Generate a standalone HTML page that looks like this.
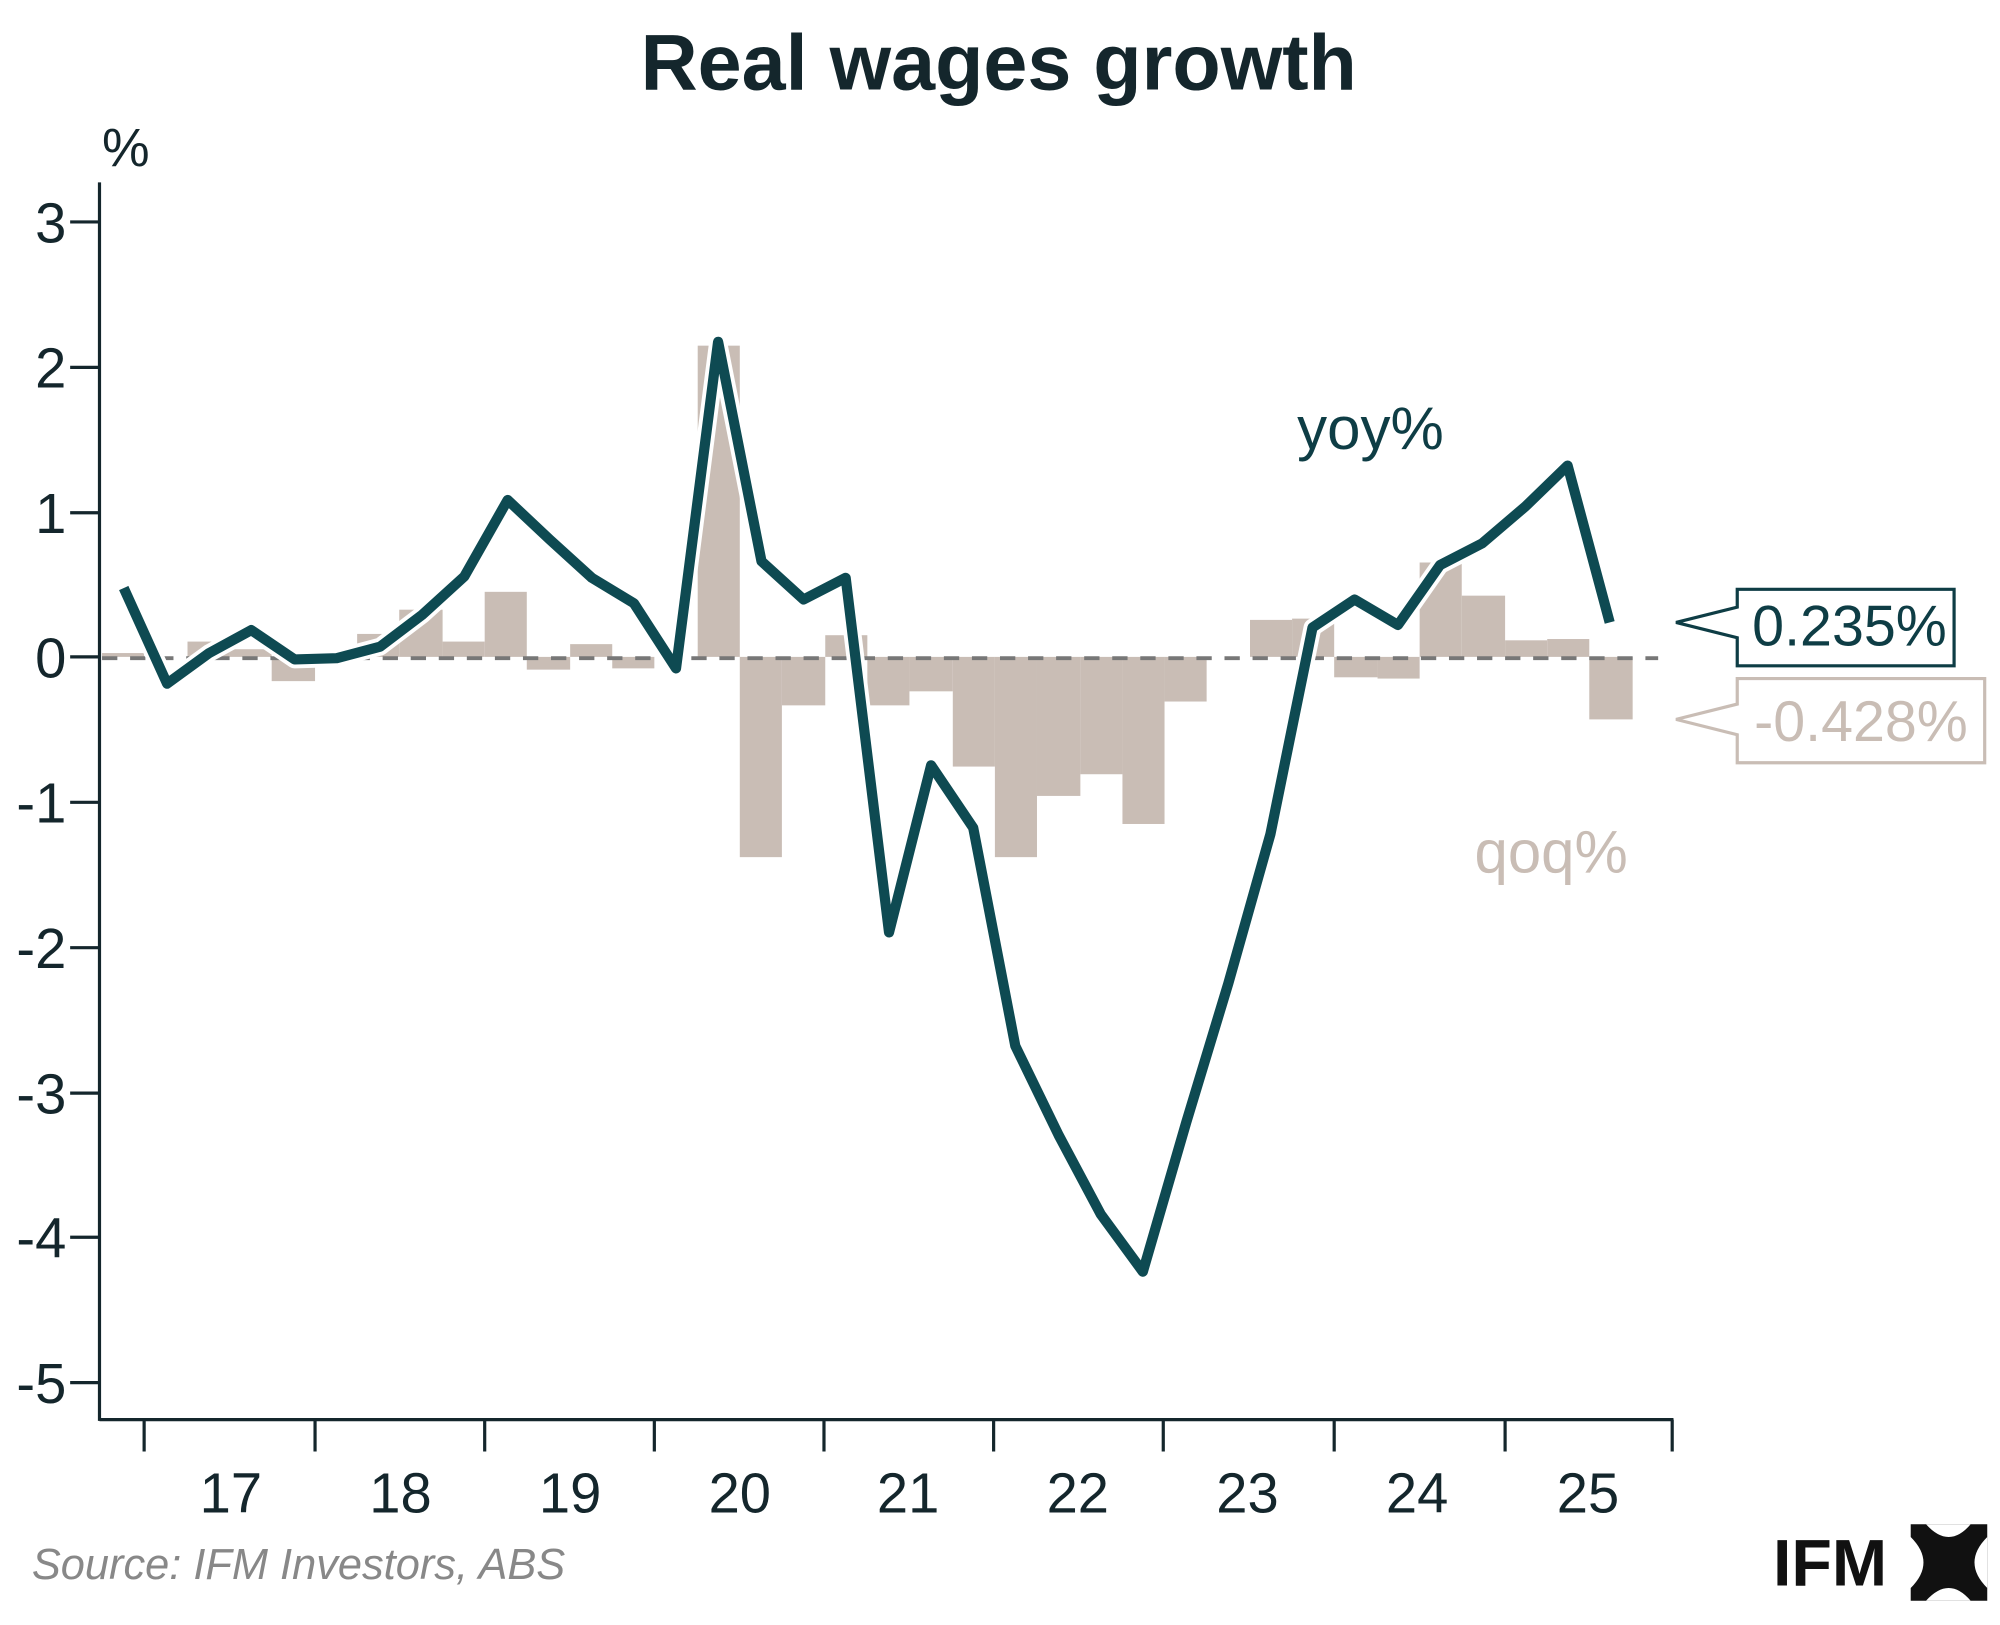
<!DOCTYPE html>
<html><head><meta charset="utf-8"><style>html,body{margin:0;padding:0;background:#fff}svg{display:block}</style></head>
<body>
<svg width="2000" height="1625" viewBox="0 0 1568 1274" xmlns="http://www.w3.org/2000/svg" font-family="Liberation Sans, sans-serif">
<rect width="1568" height="1274" fill="#fff"/>
<text x="783" y="70" font-size="62" font-weight="bold" text-anchor="middle" fill="#14262c">Real wages growth</text>
<text x="80" y="130" font-size="42" fill="#14262c">%</text>
<g fill="#c9bdb5">
<rect x="80" y="512" width="33" height="3"/>
<rect x="147" y="503" width="33" height="12"/>
<rect x="180" y="509" width="33" height="6"/>
<rect x="213" y="515" width="34" height="19"/>
<rect x="280" y="497" width="33" height="18"/>
<rect x="313" y="478" width="34" height="37"/>
<rect x="347" y="503" width="33" height="12"/>
<rect x="380" y="464" width="33" height="51"/>
<rect x="413" y="515" width="34" height="10"/>
<rect x="447" y="505" width="33" height="10"/>
<rect x="480" y="515" width="33" height="9"/>
<rect x="547" y="271" width="33" height="244"/>
<rect x="580" y="515" width="33" height="157"/>
<rect x="613" y="515" width="34" height="38"/>
<rect x="647" y="498" width="33" height="17"/>
<rect x="680" y="515" width="33" height="38"/>
<rect x="713" y="515" width="34" height="27"/>
<rect x="747" y="515" width="33" height="86"/>
<rect x="780" y="515" width="33" height="157"/>
<rect x="813" y="515" width="34" height="109"/>
<rect x="847" y="515" width="33" height="92"/>
<rect x="880" y="515" width="33" height="131"/>
<rect x="913" y="515" width="33" height="35"/>
<rect x="980" y="486" width="33" height="29"/>
<rect x="1013" y="485" width="33" height="30"/>
<rect x="1046" y="515" width="34" height="16"/>
<rect x="1080" y="515" width="33" height="17"/>
<rect x="1113" y="441" width="33" height="74"/>
<rect x="1146" y="467" width="34" height="48"/>
<rect x="1180" y="502" width="33" height="13"/>
<rect x="1213" y="501" width="33" height="14"/>
<rect x="1246" y="515" width="34" height="49"/>
</g>
<line x1="80" y1="516" x2="1300" y2="516" stroke="#777" stroke-width="3" stroke-dasharray="12,10"/>
<polyline fill="none" stroke="#fff" stroke-width="14" stroke-linejoin="round" points="97,461 131,536 164,512 197,494 231,517 264,516 298,507 331,482 364,452 398,392 431,423 464,453 497,473 530,524 563,268 597,440 630,470 663,453 697,731 730,600 763,649 796,820 830,890 863,952 896,997 930,880 963,771 996,654 1029,492 1062,470 1096,490 1129,443 1162,426 1196,397 1229,365 1262,488"/>
<polyline fill="none" stroke="#0e4a52" stroke-width="8" stroke-linejoin="round" points="97,461 131,536 164,512 197,494 231,517 264,516 298,507 331,482 364,452 398,392 431,423 464,453 497,473 530,524 563,268 597,440 630,470 663,453 697,731 730,600 763,649 796,820 830,890 863,952 896,997 930,880 963,771 996,654 1029,492 1062,470 1096,490 1129,443 1162,426 1196,397 1229,365 1262,488"/>
<g stroke="#14262c" stroke-width="2.5" fill="none">
<line x1="78" y1="143" x2="78" y2="1114"/>
<line x1="78" y1="1113" x2="1312" y2="1113"/>
<path d="M55 174H78M55 288H78M55 402H78M55 515H78M55 629H78M55 743H78M55 857H78M55 970H78M55 1084H78"/>
<path d="M113 1113V1138M247 1113V1138M380 1113V1138M513 1113V1138M646 1113V1138M779 1113V1138M912 1113V1138M1046 1113V1138M1180 1113V1138M1311 1113V1138"/>
</g>
<g font-size="44" fill="#14262c" text-anchor="end">
<text x="52" y="190">3</text><text x="52" y="304">2</text><text x="52" y="418">1</text><text x="52" y="531">0</text>
<text x="52" y="645">-1</text><text x="52" y="759">-2</text><text x="52" y="873">-3</text><text x="52" y="986">-4</text><text x="52" y="1100">-5</text>
</g>
<g font-size="44" fill="#14262c" text-anchor="middle">
<text x="181" y="1186">17</text><text x="314" y="1186">18</text><text x="447" y="1186">19</text><text x="580" y="1186">20</text><text x="712" y="1186">21</text><text x="845" y="1186">22</text><text x="978" y="1186">23</text><text x="1111" y="1186">24</text><text x="1245" y="1186">25</text>
</g>
<text x="1017" y="352" font-size="47" fill="#0e3d45">yoy%</text>
<text x="1156" y="684" font-size="47" fill="#c9bdb5">qoq%</text>
<path d="M1362 462H1532V522H1362V500L1314 488L1362 476Z" fill="#fff" stroke="#0e3d45" stroke-width="2.5"/>
<text x="1450" y="506" font-size="45" fill="#0e3d45" text-anchor="middle">0.235%</text>
<path d="M1362 532H1556V598H1362V576L1314 564L1362 552Z" fill="#fff" stroke="#c9bdb5" stroke-width="2.5"/>
<text x="1459" y="581" font-size="45" fill="#c9bdb5" text-anchor="middle">-0.428%</text>
<text x="25" y="1238" font-size="34" font-style="italic" fill="#888">Source: IFM Investors, ABS</text>
<text x="1390" y="1243" font-size="52" font-weight="bold" fill="#111">IFM</text>
<g fill="#111">
<path d="M1498 1195H1558V1255H1498V1245Q1518 1225 1498 1205Z"/>
<path d="M1510 1195Q1528 1215 1545 1195ZM1510 1255Q1528 1235 1545 1255Z" fill="#fff"/>
<path d="M1558 1205Q1538 1225 1558 1245Z" fill="#fff"/>
</g>
</svg>
</body></html>
